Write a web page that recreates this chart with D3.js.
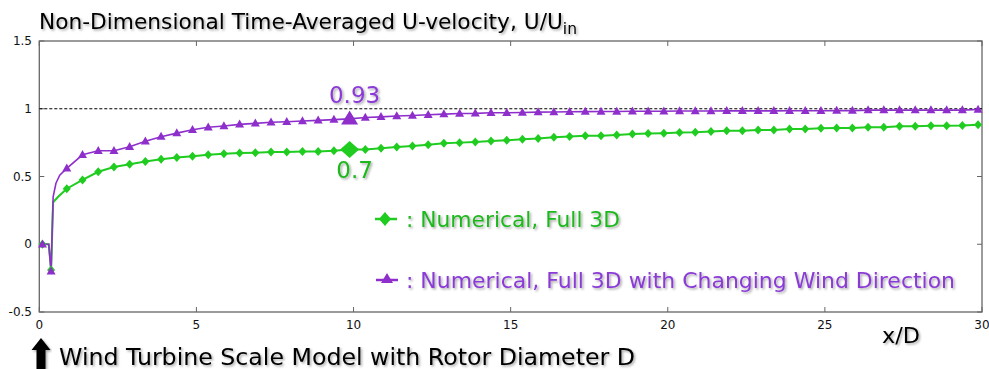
<!DOCTYPE html>
<html>
<head>
<meta charset="utf-8">
<script src="https://cdn.jsdelivr.net/npm/d3@7"></script>
<style>
  body { margin: 0; background: #fff; }
  svg { display: block; font-family: 'DejaVu Sans', Verdana, sans-serif; }
</style>
</head>
<body>
<svg id="chart" width="989" height="369"></svg>
<script>
// marker positions (x/D)
const xMarks = [0.1, 0.375, 0.875, 1.375, 1.875, 2.375, 2.875, 3.375, 3.875, 4.375, 4.875,
  5.375, 5.875, 6.375, 6.875, 7.375, 7.875, 8.375, 8.875, 9.375, 9.875,
  10.375, 10.875, 11.375, 11.875, 12.375, 12.875, 13.375, 13.875, 14.375, 14.875,
  15.375, 15.875, 16.375, 16.875, 17.375, 17.875, 18.375, 18.875, 19.375, 19.875,
  20.375, 20.875, 21.375, 21.875, 22.375, 22.875, 23.375, 23.875, 24.375, 24.875,
  25.375, 25.875, 26.375, 26.875, 27.375, 27.875, 28.375, 28.875, 29.375, 29.875];

const full3d = [0, -0.19, 0.41, 0.475, 0.535, 0.57, 0.59, 0.61, 0.627, 0.64, 0.65,
  0.66, 0.667, 0.674, 0.676, 0.68, 0.681, 0.684, 0.684, 0.69, 0.70,
  0.70, 0.708, 0.718, 0.725, 0.735, 0.745, 0.75, 0.755, 0.762, 0.767,
  0.774, 0.78, 0.789, 0.796, 0.80, 0.80, 0.807, 0.814, 0.818, 0.82,
  0.824, 0.826, 0.833, 0.838, 0.838, 0.843, 0.843, 0.85, 0.85, 0.856,
  0.858, 0.858, 0.863, 0.863, 0.87, 0.87, 0.874, 0.875, 0.876, 0.882];

const windDir = [0, -0.2, 0.56, 0.66, 0.69, 0.69, 0.72, 0.76, 0.794, 0.82, 0.845,
  0.863, 0.873, 0.885, 0.892, 0.90, 0.904, 0.91, 0.914, 0.92, 0.925,
  0.935, 0.94, 0.946, 0.95, 0.956, 0.96, 0.965, 0.966, 0.97, 0.97,
  0.972, 0.975, 0.976, 0.978, 0.979, 0.98, 0.98, 0.982, 0.982, 0.982,
  0.983, 0.983, 0.983, 0.984, 0.984, 0.984, 0.984, 0.985, 0.985, 0.985,
  0.986, 0.986, 0.99, 0.99, 0.99, 0.99, 0.99, 0.99, 0.99, 0.995];

// extra line-only points near the rotor (no markers there)
const full3dNear = [[0.3, 0], [0.44, 0.31], [0.6, 0.35]];
const windDirNear = [[0.3, 0], [0.44, 0.35], [0.53, 0.45], [0.65, 0.51]];

const xTicks = [0, 5, 10, 15, 20, 25, 30];
const yTicks = [-0.5, 0, 0.5, 1, 1.5];
const highlightIndex = 20;
const highlightLabels = ['0.7', '0.93'];
const legendLabels = [': Numerical, Full 3D', ': Numerical, Full 3D with Changing Wind Direction'];

const green = '#1fcc1f', greenText = '#1fb81f';
const purple = '#8e2fcc', purpleText = '#8a3ad6';

const svg = d3.select('#chart');
const plotLeft = 39.3, plotRight = 982, plotTop = 41, plotBottom = 312;

const x = d3.scaleLinear().domain([0, 30]).range([plotLeft, plotRight]);
const y = d3.scaleLinear().domain([-0.5, 1.5]).range([plotBottom, plotTop]);

// text shadow
const defs = svg.append('defs');
defs.append('filter').attr('id', 'shadow')
  .attr('x', '-5%').attr('y', '-20%').attr('width', '110%').attr('height', '150%')
  .append('feDropShadow')
  .attr('dx', 1.5).attr('dy', 1.5).attr('stdDeviation', 0.9)
  .attr('flood-color', '#000').attr('flood-opacity', 0.35);

// frame
svg.append('rect')
  .attr('x', plotLeft).attr('y', plotTop)
  .attr('width', plotRight - plotLeft).attr('height', plotBottom - plotTop)
  .attr('fill', 'none').attr('stroke', '#666').attr('stroke-width', 1.3);

// inward ticks on all four sides
const tk = 5;
xTicks.forEach(t => {
  svg.append('line').attr('x1', x(t)).attr('x2', x(t)).attr('y1', plotBottom).attr('y2', plotBottom - tk)
    .attr('stroke', '#666');
  svg.append('line').attr('x1', x(t)).attr('x2', x(t)).attr('y1', plotTop).attr('y2', plotTop + tk)
    .attr('stroke', '#666');
});
yTicks.forEach(t => {
  svg.append('line').attr('x1', plotLeft).attr('x2', plotLeft + tk).attr('y1', y(t)).attr('y2', y(t))
    .attr('stroke', '#666');
  svg.append('line').attr('x1', plotRight).attr('x2', plotRight - tk).attr('y1', y(t)).attr('y2', y(t))
    .attr('stroke', '#666');
});

// tick labels
svg.append('g').selectAll('text')
  .data(xTicks).enter().append('text')
  .attr('x', d => x(d)).attr('y', 328.5)
  .attr('text-anchor', 'middle')
  .attr('font-size', 12).attr('fill', '#111')
  .text(d => d);

svg.append('g').selectAll('text')
  .data(yTicks).enter().append('text')
  .attr('x', 32).attr('y', d => y(d) + 4)
  .attr('text-anchor', 'end')
  .attr('font-size', 12).attr('fill', '#111')
  .text(d => d);

// reference line at U/Uin = 1
svg.append('line')
  .attr('x1', plotLeft).attr('x2', plotRight).attr('y1', y(1)).attr('y2', y(1))
  .attr('stroke', '#000').attr('stroke-width', 1.2).attr('stroke-dasharray', '3,2');

// series
const line = d3.line().x(d => x(d[0])).y(d => y(d[1]));
function linePoints(vals, near) {
  const pts = xMarks.map((v, i) => [v, vals[i]]).concat(near);
  return pts.sort((a, b) => a[0] - b[0]);
}
function diamondPath(w, h) {
  return `M0,${-h / 2}L${w / 2},0L0,${h / 2}L${-w / 2},0Z`;
}
function trianglePath(w, h) {
  return `M0,${-h * 0.6}L${w / 2},${h * 0.4}L${-w / 2},${h * 0.4}Z`;
}

svg.append('path')
  .attr('d', line(linePoints(full3d, full3dNear)))
  .attr('fill', 'none').attr('stroke', green).attr('stroke-width', 2);
svg.append('path')
  .attr('d', line(linePoints(windDir, windDirNear)))
  .attr('fill', 'none').attr('stroke', purple).attr('stroke-width', 1.6);

svg.append('g').selectAll('path')
  .data(full3d).enter().append('path')
  .attr('transform', (d, i) => `translate(${x(xMarks[i])},${y(d)})`)
  .attr('d', (d, i) => i === highlightIndex ? diamondPath(19, 17) : diamondPath(8, 9))
  .attr('fill', green);

svg.append('g').selectAll('path')
  .data(windDir).enter().append('path')
  .attr('transform', (d, i) => `translate(${x(xMarks[i])},${y(d)})`)
  .attr('d', (d, i) => i === highlightIndex ? trianglePath(17, 14) : trianglePath(9, 8))
  .attr('fill', purple);

// value annotations
svg.append('text')
  .attr('x', x(xMarks[highlightIndex]) + 5).attr('y', 178)
  .attr('text-anchor', 'middle').attr('font-size', 23).attr('fill', greenText)
  .attr('filter', 'url(#shadow)')
  .text(highlightLabels[0]);
svg.append('text')
  .attr('x', x(xMarks[highlightIndex]) + 5).attr('y', 102.5)
  .attr('text-anchor', 'middle').attr('font-size', 23).attr('fill', purpleText)
  .attr('filter', 'url(#shadow)')
  .text(highlightLabels[1]);

// legend
const leg = svg.append('g');
leg.append('line').attr('x1', 375).attr('x2', 397).attr('y1', 219).attr('y2', 219)
  .attr('stroke', green).attr('stroke-width', 2.5);
leg.append('path').attr('transform', 'translate(385,219)').attr('d', diamondPath(12, 14))
  .attr('fill', green);
leg.append('text').attr('x', 406).attr('y', 227)
  .attr('font-size', 21).attr('fill', greenText).attr('filter', 'url(#shadow)')
  .attr('textLength', 214).attr('lengthAdjust', 'spacingAndGlyphs')
  .text(legendLabels[0]);

leg.append('line').attr('x1', 376).attr('x2', 398).attr('y1', 280).attr('y2', 280)
  .attr('stroke', purple).attr('stroke-width', 2.5);
leg.append('path').attr('transform', 'translate(387,279)').attr('d', trianglePath(12, 10))
  .attr('fill', purple);
leg.append('text').attr('x', 406).attr('y', 287.5)
  .attr('font-size', 21).attr('fill', purpleText).attr('filter', 'url(#shadow)')
  .attr('textLength', 549).attr('lengthAdjust', 'spacingAndGlyphs')
  .text(legendLabels[1]);

// title
const title = svg.append('text')
  .attr('x', 39).attr('y', 29)
  .attr('font-size', 21).attr('fill', '#000').attr('filter', 'url(#shadow)')
  .attr('textLength', 538).attr('lengthAdjust', 'spacingAndGlyphs');
title.append('tspan').text('Non-Dimensional Time-Averaged U-velocity, U/U');
title.append('tspan').attr('font-size', 15).attr('dy', 4.5).text('in');

// axis title
svg.append('text')
  .attr('x', 882).attr('y', 342.5)
  .attr('font-size', 22).attr('fill', '#000').attr('filter', 'url(#shadow)')
  .attr('textLength', 38).attr('lengthAdjust', 'spacingAndGlyphs')
  .text('x/D');

// rotor arrow and caption
svg.append('path')
  .attr('d', 'M41,338 L50.5,350 L45.5,350 L45.5,369 L36.5,369 L36.5,350 L31.5,350 Z')
  .attr('fill', '#000').attr('filter', 'url(#shadow)');
svg.append('text')
  .attr('x', 59).attr('y', 365)
  .attr('font-size', 23).attr('fill', '#000').attr('filter', 'url(#shadow)')
  .attr('textLength', 576).attr('lengthAdjust', 'spacingAndGlyphs')
  .text('Wind Turbine Scale Model with Rotor Diameter D');
</script>
</body>
</html>
